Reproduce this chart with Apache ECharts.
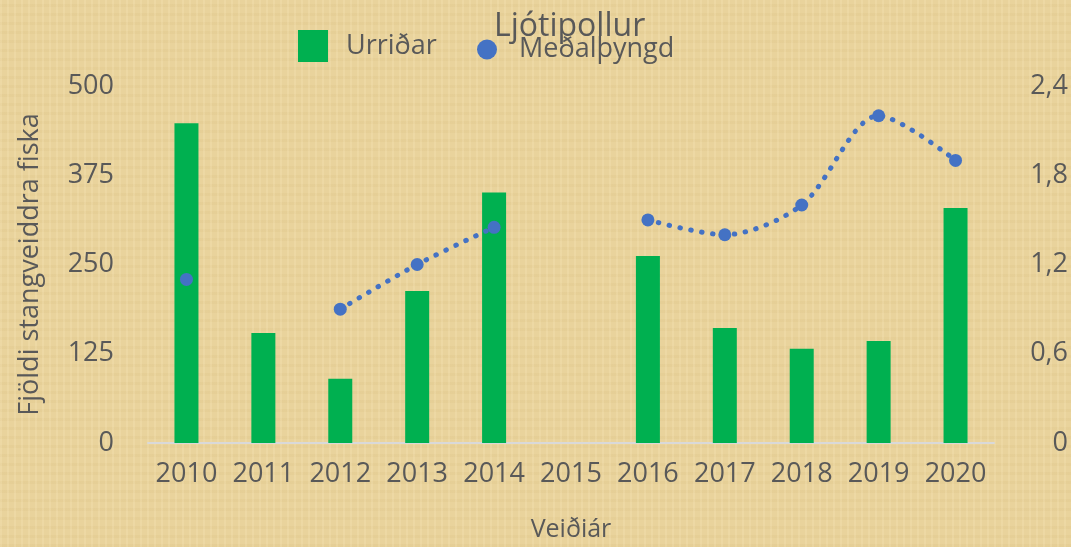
<!DOCTYPE html>
<html>
<head>
<meta charset="utf-8">
<script src="https://cdn.jsdelivr.net/npm/echarts@6/dist/echarts.min.js"></script>
<style>
    html, body { margin: 0; padding: 0; }
    body {
        width: 1071px;
        height: 547px;
        background-color: #e9d39c;
        background-image:
            repeating-linear-gradient(90deg, rgba(255, 240, 200, 0.18) 0px, rgba(255, 240, 200, 0.18) 2px, rgba(0, 0, 0, 0) 2px, rgba(0, 0, 0, 0) 7px),
            repeating-linear-gradient(0deg, rgba(200, 170, 100, 0.10) 0px, rgba(200, 170, 100, 0.10) 3px, rgba(0, 0, 0, 0) 3px, rgba(0, 0, 0, 0) 9px);
    }
    #main { width: 1071px; height: 547px; }
</style>
</head>
<body>
<div id="main"></div>
<script>
// gögn
const years = ['2010', '2011', '2012', '2013', '2014', '2015', '2016', '2017', '2018', '2019', '2020']
const urridar = [448, 154, 90, 213, 351, null, 262, 161, 132, 143, 329]
const medalthyngd = [1.1, null, 0.9, 1.2, 1.45, null, 1.5, 1.4, 1.6, 2.2, 1.9]
const leftTicks = { min: 0, max: 500, interval: 125 }
const rightTicks = { min: 0, max: 2.4, interval: 0.6 }

const textColor = '#595959'
const font = 'Open Sans'

let myChart = echarts.init(document.getElementById('main'))
let option = {
    backgroundColor: 'rgba(0, 0, 0, 0)',
    textStyle: { fontFamily: font, color: textColor },
    title: {
        text: 'Ljótipollur',
        left: 494,
        top: 11,
        padding: 0,
        textStyle: { fontFamily: font, fontSize: 32, fontWeight: 'normal', color: textColor },
        z: 10,
    },
    legend: [
        {
            data: [{ name: 'Urriðar', icon: 'rect' }],
            left: 298,
            top: 30,
            padding: 0,
            itemWidth: 30,
            itemHeight: 32,
            textStyle: { fontFamily: font, fontSize: 27, color: textColor, padding: [0, 0, 0, 13] },
        },
        {
            data: [{ name: 'Meðalþyngd', icon: 'circle' }],
            left: 477,
            top: 36,
            padding: 0,
            itemWidth: 20,
            itemHeight: 20,
            textStyle: { fontFamily: font, fontSize: 27, color: textColor, padding: [0, 0, 0, 17] },
        },
    ],
    grid: {
        left: 148,
        right: 77,
        top: 86,
        bottom: 104,
    },
    xAxis: {
        type: 'category',
        data: years,
        name: 'Veiðiár',
        nameLocation: 'middle',
        nameGap: 74,
        nameTextStyle: { fontFamily: font, fontSize: 25, color: textColor },
        axisTick: { show: false },
        axisLine: { lineStyle: { color: '#d9d9d9', width: 2 } },
        axisLabel: { fontFamily: font, fontSize: 27, color: textColor, margin: 18, interval: 0 },
    },
    yAxis: [
        {
            type: 'value',
            min: leftTicks.min,
            max: leftTicks.max,
            interval: leftTicks.interval,
            name: 'Fjöldi stangveiddra fiska',
            nameLocation: 'middle',
            nameGap: 104,
            nameTextStyle: { fontFamily: font, fontSize: 27, color: textColor },
            axisLine: { show: false },
            axisTick: { show: false },
            splitLine: { show: false },
            axisLabel: { fontFamily: font, fontSize: 27, color: textColor, margin: 34 },
        },
        {
            type: 'value',
            min: rightTicks.min,
            max: rightTicks.max,
            interval: rightTicks.interval,
            position: 'right',
            axisLine: { show: false },
            axisTick: { show: false },
            splitLine: { show: false },
            axisLabel: {
                fontFamily: font,
                fontSize: 27,
                color: textColor,
                align: 'right',
                margin: 74,
                formatter(v) {
                    return v === 0 ? '0' : v.toFixed(1).replace('.', ',')
                },
            },
        },
    ],
    series: [
        {
            name: 'Urriðar',
            type: 'bar',
            data: urridar,
            barWidth: 24,
            itemStyle: { color: '#00b050' },
        },
        {
            name: 'Meðalþyngd',
            type: 'line',
            yAxisIndex: 1,
            data: medalthyngd,
            smooth: 0.3,
            connectNulls: false,
            symbol: 'circle',
            symbolSize: 13,
            itemStyle: { color: '#4472c4' },
            lineStyle: { color: '#4472c4', width: 5, type: [0.5, 10.5], cap: 'round' },
            z: 5,
        },
    ],
}
myChart.setOption(option)
</script>
</body>
</html>
